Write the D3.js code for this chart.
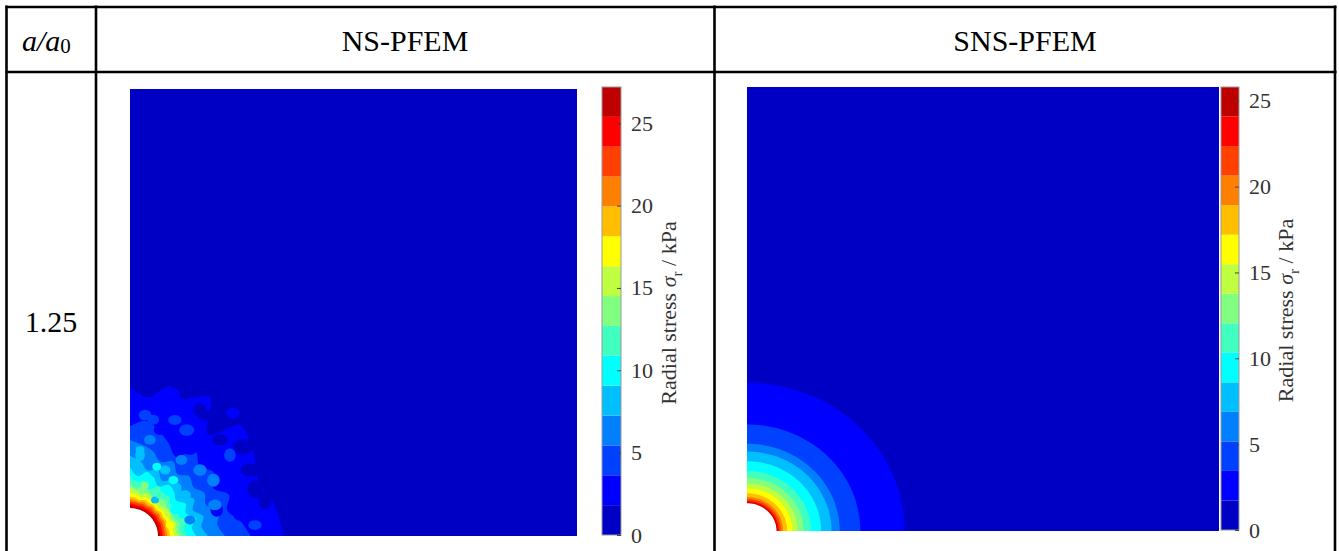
<!DOCTYPE html>
<html>
<head>
<meta charset="utf-8">
<script src="https://cdn.jsdelivr.net/npm/d3@7"></script>
<style>
  html, body { margin: 0; padding: 0; background: #fff; }
  svg { display: block; }
</style>
</head>
<body>
<svg id="chart" width="1339" height="551"></svg>
<script>
// ---- data -------------------------------------------------------------
const rowLabel = "1.25";                 // a / a0
const methods = ["NS-PFEM", "SNS-PFEM"];
const domainSize = 20;                   // quarter model, in units of a0
const holeRadius = 1.25;                 // current cavity radius a
const colorTicks = [0, 5, 10, 15, 20, 25];
const nsMax = 27.2;                      // colour range, kPa
const snsMax = 25.8;

// 15-level jet colour map, low -> high
const bandColors = ["#0000c4", "#0000ff", "#0040ff", "#0080ff", "#00bfff",
  "#00ffff", "#40ffbf", "#80ff80", "#bfff40", "#ffff00",
  "#ffbf00", "#ff8000", "#ff4000", "#ff0000", "#bf0000"];

// NS-PFEM: outer edge of each stress band (a0 units) along these polar angles
const nsAngles = [0, 7.5, 15, 22.5, 30, 37.5, 45, 52.5, 60, 67.5, 75, 82.5, 90];
const nsBand1 = [6.85, 6.71, 6.53, 6.26, 6.49, 6.80, 6.98, 5.73, 7.16, 6.71, 6.94, 6.26, 6.67];
const nsBand2 = [5.40, 5.00, 4.50, 4.80, 4.30, 4.70, 4.40, 4.80, 4.10, 4.50, 4.90, 5.20, 4.90];
const nsBand3 = [4.25, 3.94, 4.12, 3.67, 3.85, 3.58, 3.76, 3.49, 3.85, 3.58, 3.94, 4.12, 4.30];
const nsBand4 = [3.49, 3.22, 3.40, 3.04, 3.31, 2.95, 3.22, 3.13, 2.86, 3.22, 3.04, 3.40, 3.58];
const nsBand5 = [2.97, 2.79, 3.07, 2.70, 2.88, 2.61, 2.79, 2.88, 2.56, 2.79, 2.97, 2.70, 3.07];
const nsBand6 = [2.58, 2.45, 2.64, 2.35, 2.54, 2.30, 2.49, 2.35, 2.58, 2.26, 2.54, 2.45, 2.68];
const nsBand7 = [2.32, 2.18, 2.28, 2.13, 2.23, 2.09, 2.23, 2.13, 2.04, 2.18, 2.28, 2.13, 2.37];
const nsBand8 = [2.17, 2.07, 2.13, 1.98, 2.07, 2.03, 1.93, 2.03, 1.98, 2.07, 1.93, 2.07, 2.17];
const nsBand9 = [1.98, 1.93, 1.88, 1.93, 1.84, 1.88, 1.79, 1.88, 1.84, 1.88, 1.79, 1.88, 1.93];
const nsBand10 = [1.79, 1.76, 1.74, 1.76, 1.71, 1.75, 1.68, 1.73, 1.70, 1.74, 1.67, 1.73, 1.77];
const nsBand11 = [1.68, 1.65, 1.63, 1.66, 1.61, 1.64, 1.59, 1.63, 1.59, 1.63, 1.58, 1.62, 1.66];
const nsBand12 = [1.57, 1.55, 1.54, 1.56, 1.52, 1.55, 1.51, 1.54, 1.51, 1.54, 1.50, 1.53, 1.56];
const nsBand13 = [1.47, 1.45, 1.44, 1.46, 1.43, 1.45, 1.42, 1.44, 1.42, 1.44, 1.41, 1.43, 1.46];
const nsBand14 = [1.37, 1.35, 1.35, 1.36, 1.34, 1.35, 1.34, 1.35, 1.33, 1.34, 1.33, 1.34, 1.36];
const nsBands = [nsBand1, nsBand2, nsBand3, nsBand4, nsBand5, nsBand6, nsBand7,
  nsBand8, nsBand9, nsBand10, nsBand11, nsBand12, nsBand13, nsBand14];

// NS-PFEM: local element patches [x, y, rx, ry, band index] (a0 units)
const nsPatches = [
  [3.36, 5.41, 0.32, 0.24, 0], [4.03, 4.30, 0.35, 0.25, 0], [5.37, 2.95, 0.42, 0.30, 0],
  [6.04, 1.61, 0.30, 0.40, 0], [2.46, 6.31, 0.25, 0.20, 0], [5.06, 3.98, 0.45, 0.35, 0],
  [3.13, 5.64, 0.30, 0.30, 0], [5.60, 2.10, 0.35, 0.40, 0],
  [2.68, 3.85, 0.30, 0.22, 1], [4.25, 2.51, 0.34, 0.26, 1], [1.34, 4.74, 0.28, 0.22, 1],
  [4.92, 0.94, 0.30, 0.25, 1], [3.88, 1.16, 0.28, 0.30, 1], [4.60, 5.50, 0.30, 0.24, 1],
  [2.01, 5.19, 0.30, 0.22, 2], [4.47, 3.62, 0.26, 0.30, 2], [0.67, 5.41, 0.28, 0.24, 2],
  [5.59, 0.49, 0.30, 0.22, 2], [2.54, 4.74, 0.34, 0.26, 2], [1.04, 5.20, 0.26, 0.22, 2],
  [3.13, 2.95, 0.30, 0.26, 3], [0.89, 4.30, 0.26, 0.22, 3], [3.80, 1.39, 0.30, 0.24, 3],
  [3.73, 2.50, 0.28, 0.30, 3], [2.30, 3.40, 0.26, 0.22, 3], [2.68, 0.72, 0.25, 0.20, 3],
  [1.57, 2.95, 0.24, 0.20, 4], [2.46, 1.83, 0.26, 0.22, 4], [0.45, 3.62, 0.22, 0.26, 4],
  [1.12, 1.61, 0.18, 0.16, 4], [0.45, 3.85, 0.20, 0.18, 4],
  [0.89, 2.51, 0.22, 0.18, 5], [2.01, 1.16, 0.22, 0.20, 5], [1.94, 2.50, 0.22, 0.18, 5],
  [1.20, 3.10, 0.20, 0.18, 5],
  [1.34, 1.83, 0.20, 0.16, 6], [0.67, 2.28, 0.18, 0.16, 7], [1.79, 0.49, 0.18, 0.15, 9]
];

// SNS-PFEM: outer radius of each stress band (a0 units), band 1 .. 14
const snsRadii = [6.68, 4.80, 3.93, 3.58, 3.14, 2.71, 2.40, 2.14, 1.92, 1.70, 1.53, 1.44, 1.35, 1.29];

// ---- drawing ----------------------------------------------------------
const svg = d3.select("#chart");
const serif = "'Liberation Serif', 'Times New Roman', serif";
const rad = d => d * Math.PI / 180;

const panels = [
  { name: methods[0], plot: [130, 577, 89, 536], bar: [602, 621, 87, 535], max: nsMax, labelX: 676 },
  { name: methods[1], plot: [747, 1219, 87, 531], bar: [1221, 1239, 87, 530], max: snsMax, labelX: 1293 }
];

panels.forEach((p, pi) => {
  const [x0, x1, y0, y1] = p.plot;
  const sx = d3.scaleLinear().domain([0, domainSize]).range([x0, x1]);
  const sy = d3.scaleLinear().domain([0, domainSize]).range([y1, y0]);
  const clipId = "clip" + pi;
  svg.append("clipPath").attr("id", clipId)
    .append("rect").attr("x", x0).attr("y", y0).attr("width", x1 - x0).attr("height", y1 - y0);
  const g = svg.append("g").attr("clip-path", `url(#${clipId})`);

  // lowest band fills the whole model
  g.append("rect").attr("x", x0).attr("y", y0).attr("width", x1 - x0).attr("height", y1 - y0)
    .attr("fill", bandColors[0]);

  const corner = `L${sx(0)},${sy(0)}Z`;
  if (pi === 0) {
    const line = d3.line().x(d => sx(d[0])).y(d => sy(d[1])).curve(d3.curveCatmullRom.alpha(0.5));
    nsBands.forEach((radii, k) => {
      const pts = nsAngles.map((a, i) => [radii[i] * Math.cos(rad(a)), radii[i] * Math.sin(rad(a))]);
      g.append("path").attr("d", line(pts) + corner).attr("fill", bandColors[k + 1]);
    });
    g.selectAll("ellipse.patch").data(nsPatches).join("ellipse")
      .attr("class", "patch")
      .attr("cx", d => sx(d[0])).attr("cy", d => sy(d[1]))
      .attr("rx", d => sx(d[2]) - sx(0)).attr("ry", d => sy(0) - sy(d[3]))
      .attr("fill", d => bandColors[d[4]]);
  } else {
    const arcAngles = d3.range(0, 90.01, 2);
    const line = d3.line().x(d => sx(d[0])).y(d => sy(d[1]));
    snsRadii.forEach((r, k) => {
      const pts = arcAngles.map(a => [r * Math.cos(rad(a)), r * Math.sin(rad(a))]);
      g.append("path").attr("d", line(pts) + corner).attr("fill", bandColors[k + 1]);
    });
  }

  // cavity
  const holePts = d3.range(0, 90.01, 2).map(a => [holeRadius * Math.cos(rad(a)), holeRadius * Math.sin(rad(a))]);
  g.append("path")
    .attr("d", d3.line().x(d => sx(d[0])).y(d => sy(d[1]))(holePts) + corner)
    .attr("fill", "#fff");

  // colour bar
  const [bx0, bx1, by0, by1] = p.bar;
  const cy = d3.scaleLinear().domain([0, p.max]).range([by1, by0]);
  const step = p.max / bandColors.length;
  const cb = svg.append("g");
  cb.selectAll("rect.band").data(bandColors).join("rect")
    .attr("class", "band")
    .attr("x", bx0).attr("width", bx1 - bx0)
    .attr("y", (d, i) => cy((i + 1) * step))
    .attr("height", (d, i) => cy(i * step) - cy((i + 1) * step))
    .attr("fill", d => d);
  cb.append("rect").attr("x", bx0).attr("y", by0).attr("width", bx1 - bx0).attr("height", by1 - by0)
    .attr("fill", "none").attr("stroke", "#9a9a9a").attr("stroke-width", 1);

  const axis = d3.axisRight(cy).tickValues(colorTicks).tickSize(-4).tickPadding(10).tickFormat(d3.format("d"));
  const ax = svg.append("g").attr("transform", `translate(${bx1},0)`).call(axis);
  ax.select(".domain").remove();
  ax.selectAll(".tick line").attr("stroke", "#444");
  ax.selectAll(".tick text")
    .attr("font-family", serif).attr("font-size", 22).attr("fill", "#333");

  const lab = svg.append("text")
    .attr("transform", `translate(${p.labelX},${(by0 + by1) / 2 + 2}) rotate(-90)`)
    .attr("text-anchor", "middle")
    .attr("font-family", serif).attr("font-size", 22).attr("fill", "#333");
  lab.append("tspan").text("Radial stress ");
  lab.append("tspan").attr("font-style", "italic").text("σ");
  lab.append("tspan").attr("font-size", 15).attr("dy", 6).text("r");
  lab.append("tspan").attr("dy", -6).text(" / kPa");
});

// ---- table frame and headings -----------------------------------------
const table = svg.append("g").attr("stroke", "#000").attr("stroke-width", 2.6);
[6.5, 96, 714.5, 1335].forEach(x =>
  table.append("line").attr("x1", x).attr("x2", x).attr("y1", 5.5).attr("y2", 560));
[7, 72].forEach(y =>
  table.append("line").attr("x1", 5.5).attr("x2", 1336.5).attr("y1", y).attr("y2", y));

const head = svg.append("text").attr("x", 22).attr("y", 51)
  .attr("font-family", serif).attr("font-size", 30).attr("fill", "#000");
head.append("tspan").attr("font-style", "italic").text("a/a");
head.append("tspan").attr("font-size", 21).attr("dy", 2).text("0");

svg.selectAll("text.method").data(methods).join("text")
  .attr("class", "method")
  .attr("x", (d, i) => i === 0 ? 405 : 1025).attr("y", 51)
  .attr("text-anchor", "middle")
  .attr("font-family", serif).attr("font-size", 30).attr("fill", "#000")
  .text(d => d);

svg.append("text").attr("x", 51).attr("y", 332).attr("text-anchor", "middle")
  .attr("font-family", serif).attr("font-size", 30).attr("fill", "#000")
  .text(rowLabel);
</script>
</body>
</html>
